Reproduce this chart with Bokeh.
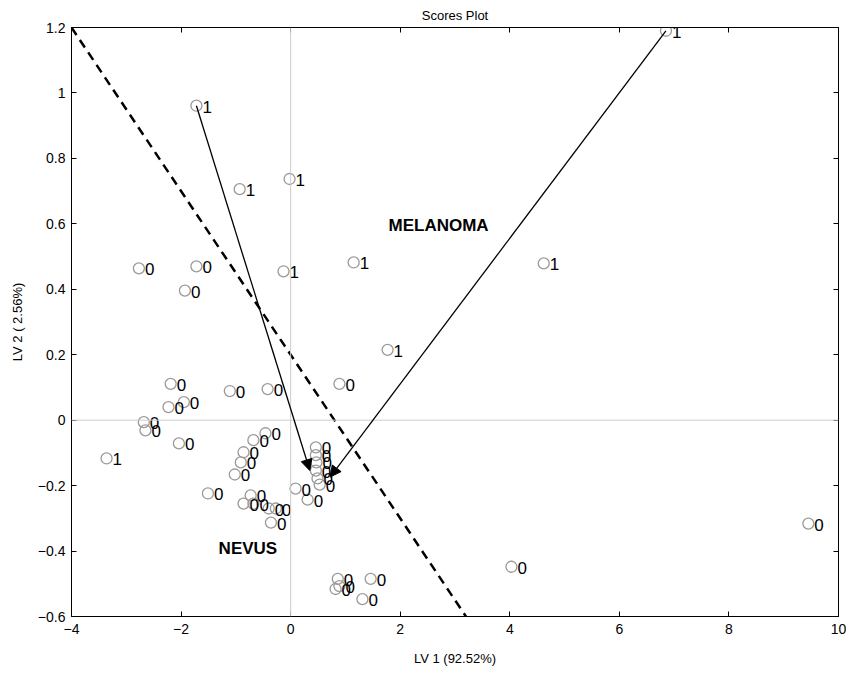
from bokeh.plotting import figure
from bokeh.models import (ColumnDataSource, Span, Arrow, NormalHead, LinearAxis,
                          FixedTicker, CustomJSTickFormatter, Label)
from bokeh.core.properties import value
from bokeh.embed import file_html
from bokeh.resources import INLINE

# ---- data ----
x0 = [-2.77, -1.72, -1.93, -2.19, -1.11, -0.42, 0.89, -2.23, -1.95, -2.68, -2.65, -2.04,
      -0.46, -0.68, -0.86, -0.91, -1.02, -1.51, -0.73, -0.86, -0.68, -0.40, -0.27, -0.36,
      0.09, 0.31, 0.46, 0.46, 0.47, 0.46, 0.49, 0.53, 0.86, 0.82, 0.89, 1.46, 1.31, 4.03, 9.45]
y0 = [0.464, 0.470, 0.396, 0.111, 0.089, 0.095, 0.111, 0.040, 0.055, -0.006, -0.031, -0.071,
      -0.040, -0.061, -0.098, -0.129, -0.166, -0.224, -0.230, -0.255, -0.255, -0.270, -0.270, -0.313,
      -0.209, -0.243, -0.083, -0.107, -0.129, -0.154, -0.178, -0.197, -0.485, -0.516, -0.507,
      -0.485, -0.547, -0.448, -0.316]
x1 = [-1.72, 6.85, -0.93, -0.02, -0.13, 1.15, 4.62, 1.77, -3.36]
y1 = [0.961, 1.19, 0.706, 0.737, 0.455, 0.482, 0.479, 0.215, -0.117]

arrow_x_start = [-1.72, 6.85]
arrow_y_start = [0.961, 1.19]
arrow_x_end = [0.35, 0.72]
arrow_y_end = [-0.154, -0.174]

boundary_x = [-4.0, 3.2]
boundary_y = [1.2, -0.6]

x_ticks = [-4, -2, 0, 2, 4, 6, 8, 10]
y_ticks = [-0.6, -0.4, -0.2, 0, 0.2, 0.4, 0.6, 0.8, 1.0, 1.2]

FONT = "Liberation Sans"

p = figure(width=846, height=670, x_range=(-4, 10), y_range=(-0.6, 1.2),
           output_backend="svg", toolbar_location=None,
           min_border_left=71, min_border_right=8, min_border_top=27, min_border_bottom=54,
           title="Scores Plot")
p.title.align = "center"
p.title.text_font = FONT
p.title.text_font_size = "13px"
p.title.text_font_style = "normal"
p.title.text_color = "black"
p.title.standoff = 9
p.xgrid.visible = False
p.ygrid.visible = False
p.outline_line_color = "black"
p.outline_line_width = 1
p.background_fill_color = "white"

fmt = CustomJSTickFormatter(code="""
var s = String(Number(tick.toFixed(1)));
return s.replace('-', '\u2212');
""")
blank = CustomJSTickFormatter(code="return '';")

for ax, ticks in ((p.xaxis[0], x_ticks), (p.yaxis[0], y_ticks)):
    ax.ticker = FixedTicker(ticks=ticks)
    ax.formatter = fmt
    ax.major_tick_in = 5
    ax.major_tick_out = 0
    ax.minor_tick_line_color = None
    ax.axis_line_color = "black"
    ax.major_tick_line_color = "black"
    ax.major_label_text_font = FONT
    ax.major_label_text_font_size = "14px"
    ax.major_label_text_color = "black"
    ax.axis_label_text_font = FONT
    ax.axis_label_text_font_size = "13px"
    ax.axis_label_text_font_style = "normal"
    ax.axis_label_text_color = "black"

p.xaxis[0].axis_label = "LV 1 (92.52%)"
p.yaxis[0].axis_label = "LV 2 ( 2.56%)"
p.xaxis[0].major_label_standoff = 7
p.xaxis[0].axis_label_standoff = 14
p.yaxis[0].major_label_standoff = 6
p.yaxis[0].axis_label_standoff = 10

top = LinearAxis(ticker=FixedTicker(ticks=x_ticks), formatter=blank, major_tick_in=5,
                 major_tick_out=0, minor_tick_line_color=None, axis_line_color="black")
right = LinearAxis(ticker=FixedTicker(ticks=y_ticks), formatter=blank, major_tick_in=5,
                   major_tick_out=0, minor_tick_line_color=None, axis_line_color="black")
p.add_layout(top, "above")
p.add_layout(right, "right")

p.add_layout(Span(location=0, dimension="width", line_color="#cccccc", line_width=1))
p.add_layout(Span(location=0, dimension="height", line_color="#cccccc", line_width=1))

p.line(boundary_x, boundary_y, line_color="black", line_width=2.5, line_dash="9 6")

for xs, ys, xe, ye in zip(arrow_x_start, arrow_y_start, arrow_x_end, arrow_y_end):
    p.add_layout(Arrow(x_start=xs, y_start=ys, x_end=xe, y_end=ye,
                       line_color="black", line_width=1.3,
                       end=NormalHead(size=11, fill_color="black", line_color="black")))

s0 = ColumnDataSource(dict(x=x0, y=y0, t=["0"] * len(x0)))
s1 = ColumnDataSource(dict(x=x1, y=y1, t=["1"] * len(x1)))
for src in (s0, s1):
    p.scatter("x", "y", source=src, marker="circle", size=11, fill_color=None,
              line_color="#9a9a9a", line_width=1.3)
    p.text("x", "y", text="t", source=src, x_offset=6, y_offset=1,
           text_font=value(FONT), text_font_size="17px",
           text_baseline="middle", text_align="left", text_color="black")

p.add_layout(Label(x=2.7, y=0.595, text="MELANOMA", text_font=FONT,
                   text_font_size="17px", text_font_style="bold", text_color="black",
                   text_align="center", text_baseline="middle"))
p.add_layout(Label(x=-0.78, y=-0.393, text="NEVUS", text_font=FONT,
                   text_font_size="17px", text_font_style="bold", text_color="black",
                   text_align="center", text_baseline="middle"))

open("out.html", "w").write(file_html(p, INLINE))
